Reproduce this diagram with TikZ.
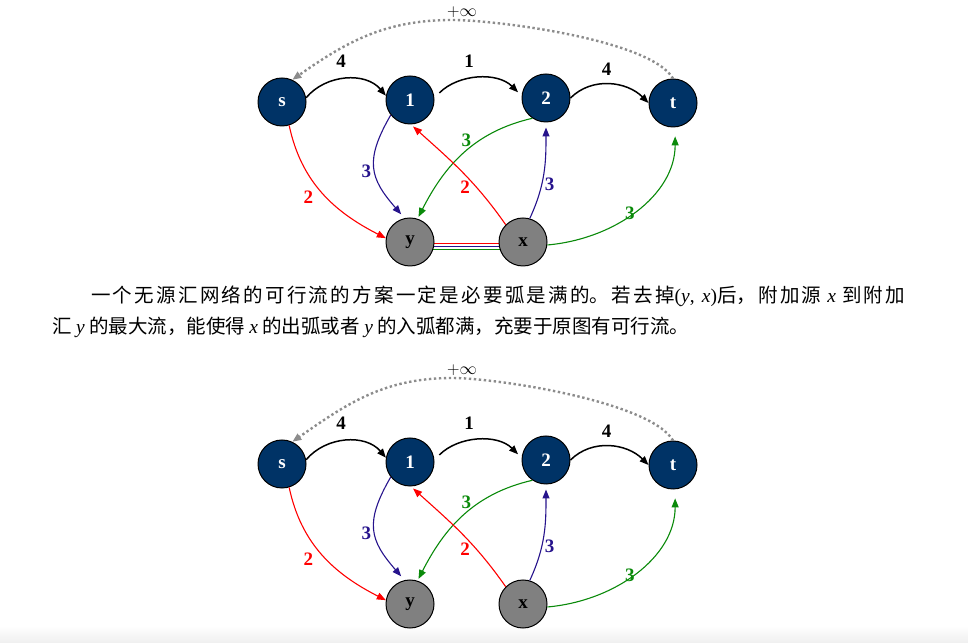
\documentclass[tikz,border=0pt]{standalone}
\usepackage{fontspec}
\setmainfont{Liberation Serif}
\newfontfamily\cjk{Noto Sans CJK SC}
\usepackage{xcolor}
\definecolor{deepblue}{HTML}{003366}
\definecolor{midgray}{HTML}{808080}
\definecolor{fred}{HTML}{FF0000}
\definecolor{indigo}{HTML}{26138C}
\definecolor{fgreen}{HTML}{0A8A0A}
\definecolor{dotgray}{HTML}{8C8C8C}
\usepackage{tikz}
\usetikzlibrary{arrows.meta,backgrounds}
\XeTeXlinebreaklocale "zh"
\XeTeXlinebreakskip=0pt plus 3pt
\newcommand\vv[1]{{\rmfamily\itshape #1}}
\tikzset{
  >={Triangle[length=9pt,width=7pt]},
  vert/.style   ={circle,draw=black,line width=1pt,fill=deepblue,
                  minimum size=48pt,inner sep=0pt,text=white,
                  font=\fontsize{19}{19}\selectfont\bfseries},
  aux/.style    ={vert,fill=midgray,text=black},
  lbl/.style    ={font=\fontsize{19}{19}\selectfont\bfseries,inner sep=1pt},
  carry/.style  ={->,draw=black,line width=1.5pt},
  redflow/.style={->,draw=fred,line width=1.1pt},
  bluflow/.style={->,draw=indigo,line width=1.1pt},
  grnflow/.style={->,draw=fgreen,line width=1.1pt},
  back/.style   ={->,draw=dotgray,line width=2.4pt,
                  dash pattern=on 2.4pt off 2.6pt},
}
\begin{document}
\begin{tikzpicture}[x=1pt,y=1pt]
\useasboundingbox (0,0) rectangle (968,642);
\shade[top color=white,bottom color=black!6] (0,0) rectangle (968,16);
% upper network, with the arc (y,x)
\node[vert] (sa)  at (282,540) {s};
\node[vert] (v1a) at (410,542) {1};
\node[vert] (v2a) at (546,544) {2};
\node[vert] (ta)  at (673,539) {t};
\node[aux]  (ya)  at (410,400) {y};
\node[aux]  (xa)  at (523,400) {x};
\coordinate (topa) at (452,622);
\draw[carry] (sa.10) to[out=50,in=130] node[lbl,above=10pt,xshift=-5pt] (c1a) {4} (v1a.170);
\draw[carry,shorten <=7pt,shorten >=5pt] (v1a.5) to[out=45,in=135] node[lbl,above=10pt,xshift=-9pt] (c2a) {1} (v2a.175);
\draw[carry] (v2a.0) to[out=45,in=135] node[lbl,above=7pt,xshift=-3pt] (c3a) {4} (ta.180);
\draw[back] (ta.north) to[out=120,in=0,looseness=0.5] (topa)
  node[above=-2pt,xshift=10pt,font=\fontsize{19}{19}\selectfont] (infa) {$+\infty$}
  to[out=180,in=35] (sa.65);
\draw[redflow] (sa.-73) to[out=-78,in=153] node[lbl,text=fred,left=8pt,yshift=-4pt] (d1a) {2} (ya.171);
\draw[bluflow,shorten >=5pt] (v1a.218) to[out=240,in=131,looseness=1.3] node[lbl,text=indigo,left=2pt,yshift=-2pt] (d2a) {3} (ya.103);
\draw[grnflow,shorten >=2pt] (v2a.236) to[out=193,in=63] node[lbl,text=fgreen,above=5pt,xshift=3pt] (d3a) {3} (ya.72);
\draw[redflow,shorten >=3pt] (xa.135) to[out=125,in=-42] node[lbl,text=fred,below right=2pt,xshift=-5pt,yshift=-6pt] (d4a) {2} (v1a.-88);
\draw[bluflow,shorten >=5pt] (xa.74) to[out=65,in=-90] node[lbl,text=indigo,pos=0.4,right=1pt,yshift=-4pt] (d5a) {3} (v2a.-90);
\draw[grnflow,shorten >=9pt] (xa.-7) to[out=5,in=-90] node[lbl,text=fgreen,pos=0.45,above left=0pt,xshift=7pt,yshift=-6pt] (d6a) {3} (ta.-85);
\begin{scope}[on background layer]
\draw[draw=fred,line width=1.1pt]   ([yshift=-1.6pt]ya.center) -- ([yshift=-1.6pt]xa.center);
\draw[draw=indigo,line width=1.1pt] ([yshift=-4.4pt]ya.center) -- ([yshift=-4.4pt]xa.center);
\draw[draw=fgreen,line width=1.1pt] ([yshift=-7.6pt]ya.center) -- ([yshift=-7.6pt]xa.center);
\end{scope}
% remark
\node[anchor=base west,text width=853pt,align=justify,inner sep=0pt,
      font=\cjk\fontsize{19.5}{31}\selectfont] (remark) at (52,339.6)
  {\hspace*{2em}一个无源汇网络的可行流的方案一定是必要弧是满的。若去掉{\rmfamily(\textit{y}, \textit{x})}后，附加源 \vv{x} 到附加\linebreak
   汇 \vv{y} 的最大流，能使得 \vv{x} 的出弧或者 \vv{y} 的入弧都满，充要于原图有可行流。};
% lower network, (y,x) removed
\begin{scope}[yshift=-362pt]
\node[vert] (sb)  at (282,540) {s};
\node[vert] (v1b) at (410,542) {1};
\node[vert] (v2b) at (546,544) {2};
\node[vert] (tb)  at (673,539) {t};
\node[aux]  (yb)  at (410,400) {y};
\node[aux]  (xb)  at (523,400) {x};
\coordinate (topb) at (452,626);
\draw[carry] (sb.10) to[out=50,in=130] node[lbl,above=10pt,xshift=-5pt] (c1b) {4} (v1b.170);
\draw[carry,shorten <=7pt,shorten >=5pt] (v1b.5) to[out=45,in=135] node[lbl,above=10pt,xshift=-9pt] (c2b) {1} (v2b.175);
\draw[carry] (v2b.0) to[out=45,in=135] node[lbl,above=7pt,xshift=-3pt] (c3b) {4} (tb.180);
\draw[back] (tb.north) to[out=120,in=0,looseness=0.5] (topb)
  node[above=-2pt,xshift=10pt,font=\fontsize{19}{19}\selectfont] (infb) {$+\infty$}
  to[out=180,in=35] (sb.65);
\draw[redflow] (sb.-73) to[out=-78,in=153] node[lbl,text=fred,left=8pt,yshift=-4pt] (d1b) {2} (yb.171);
\draw[bluflow,shorten >=5pt] (v1b.218) to[out=240,in=131,looseness=1.3] node[lbl,text=indigo,left=2pt,yshift=-2pt] (d2b) {3} (yb.103);
\draw[grnflow,shorten >=2pt] (v2b.236) to[out=193,in=63] node[lbl,text=fgreen,above=5pt,xshift=3pt] (d3b) {3} (yb.72);
\draw[redflow,shorten >=3pt] (xb.135) to[out=125,in=-42] node[lbl,text=fred,below right=2pt,xshift=-5pt,yshift=-6pt] (d4b) {2} (v1b.-88);
\draw[bluflow,shorten >=5pt] (xb.74) to[out=65,in=-90] node[lbl,text=indigo,pos=0.4,right=1pt,yshift=-4pt] (d5b) {3} (v2b.-90);
\draw[grnflow,shorten >=9pt] (xb.-7) to[out=5,in=-90] node[lbl,text=fgreen,pos=0.45,above left=0pt,xshift=7pt,yshift=-6pt] (d6b) {3} (tb.-85);
\end{scope}
\end{tikzpicture}
\end{document}
